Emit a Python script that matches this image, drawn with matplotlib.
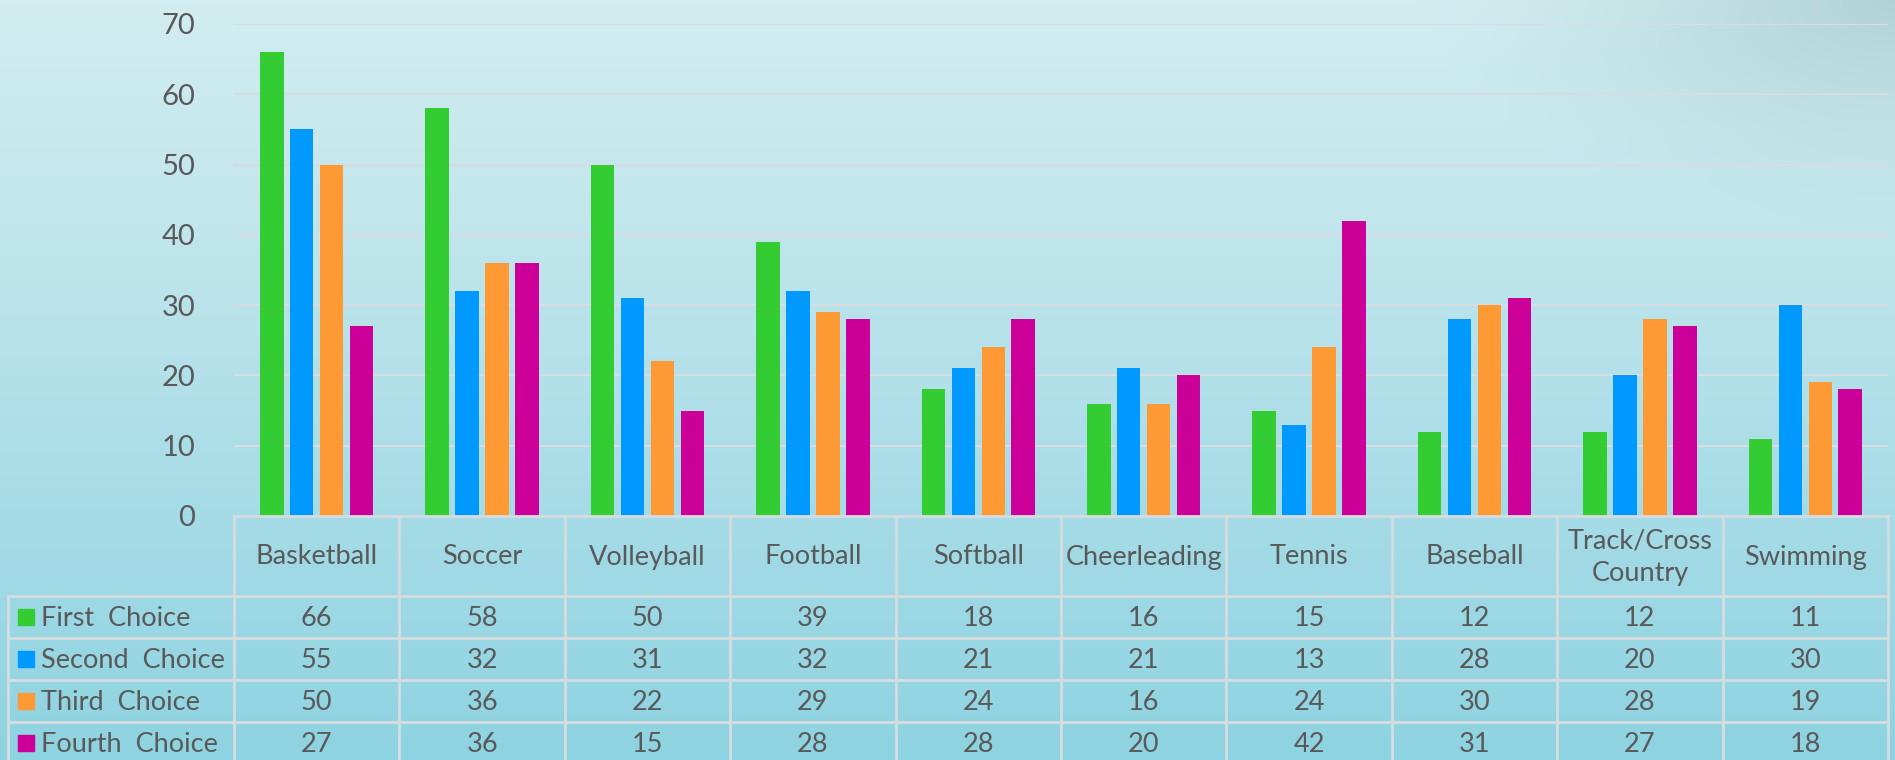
import numpy as np
import matplotlib.pyplot as plt
from matplotlib.colors import LinearSegmentedColormap

plt.rcParams['font.family'] = ['Lato', 'DejaVu Sans']

# datos
deportes = ['Basketball', 'Soccer', 'Volleyball', 'Football', 'Softball',
            'Cheerleading', 'Tennis', 'Baseball', 'Track/Cross\nCountry', 'Swimming']
series = ['First  Choice', 'Second  Choice', 'Third  Choice', 'Fourth  Choice']
primera = [66, 58, 50, 39, 18, 16, 15, 12, 12, 11]
segunda = [55, 32, 31, 32, 21, 21, 13, 28, 20, 30]
tercera = [50, 36, 22, 29, 24, 16, 24, 30, 28, 19]
cuarta = [27, 36, 15, 28, 28, 20, 42, 31, 27, 18]
valores = [primera, segunda, tercera, cuarta]
colores = ['#33cc33', '#0099ff', '#ff9933', '#cc0099']
gris = '#595959'
linea = '#d6dcdf'

W, H = 1895, 760
fig = plt.figure(figsize=(W / 100, H / 100), dpi=100)

# fondo degradado
bg = fig.add_axes([0, 0, 1, 1], zorder=0)
yy = np.linspace(0, 1, H)[:, None]
xx = np.linspace(0, 1, W)[None, :]
cmap = LinearSegmentedColormap.from_list('fondo', ['#d2edf0', '#bfe5ec', '#a6dce7', '#8ed3e1'])
img = cmap(yy * np.ones_like(xx))
# mancha gris arriba a la derecha
d = np.clip(1 - np.hypot((xx - 1.0) / 0.25, (yy - 0.0) / 0.3), 0, 1) ** 1.3
gris_rgb = np.array([0.58, 0.72, 0.73])
img[..., :3] = img[..., :3] * (1 - 0.5 * d[..., None]) + gris_rgb * 0.5 * d[..., None]
bg.imshow(img, aspect='auto', extent=[0, W, H, 0])
bg.set_xlim(0, W)
bg.set_ylim(H, 0)
bg.axis('off')

# grafico de barras
x0, x1, ytop, ybot = 234, 1888, 24, 516
ax = fig.add_axes([x0 / W, (H - ybot) / H, (x1 - x0) / W, (ybot - ytop) / H], zorder=2)
ax.patch.set_alpha(0)
x = np.arange(len(deportes))
paso = 0.181
ancho = 0.142
for i in range(4):
    ax.bar(x + (i - 1.5) * paso, valores[i], width=ancho, color=colores[i], zorder=3)
ax.set_xlim(-0.5, len(deportes) - 0.5)
ax.set_ylim(0, 70)
ax.set_yticks(range(0, 71, 10))
for yv in range(10, 71, 10):
    ax.axhline(yv, color=linea, lw=1.5, zorder=1)
ax.tick_params(axis='y', length=0, pad=28, labelsize=21, labelcolor=gris)
ax.set_xticks([])
for s in ax.spines.values():
    s.set_visible(False)

# tabla de datos
tab = fig.add_axes([0, 0, 1, 1], zorder=3)
tab.patch.set_alpha(0)
tab.set_xlim(0, W)
tab.set_ylim(H, 0)
tab.axis('off')
colw = (x1 - x0) / len(deportes)
filas = [516, 596, 638, 680, 722, 764]
izq = 8
tab.plot([x0, x1], [filas[0], filas[0]], color=linea, lw=2)
for f in filas[1:-1]:
    tab.plot([izq, x1], [f, f], color=linea, lw=2)
tab.plot([izq, izq], [filas[1], H], color=linea, lw=2)
for j in range(len(deportes) + 1):
    tab.plot([x0 + j * colw] * 2, [filas[0], H], color=linea, lw=2)
for j, nombre in enumerate(deportes):
    cx = x0 + (j + 0.5) * colw
    tab.text(cx, (filas[0] + filas[1]) / 2 + 1, nombre, ha='center', va='center',
             fontsize=19.5, color=gris, linespacing=1.4)
    for i in range(4):
        cy = (filas[i + 1] + filas[i + 2]) / 2 + 2
        tab.text(cx, cy, str(valores[i][j]), ha='center', va='center', fontsize=19.5, color=gris)
for i in range(4):
    cy = (filas[i + 1] + filas[i + 2]) / 2
    tab.add_patch(plt.Rectangle((18, cy - 8), 16, 16, color=colores[i]))
    tab.text(41, cy + 2, series[i], ha='left', va='center', fontsize=19.5, color=gris)

fig.savefig('out.png', dpi=100)
